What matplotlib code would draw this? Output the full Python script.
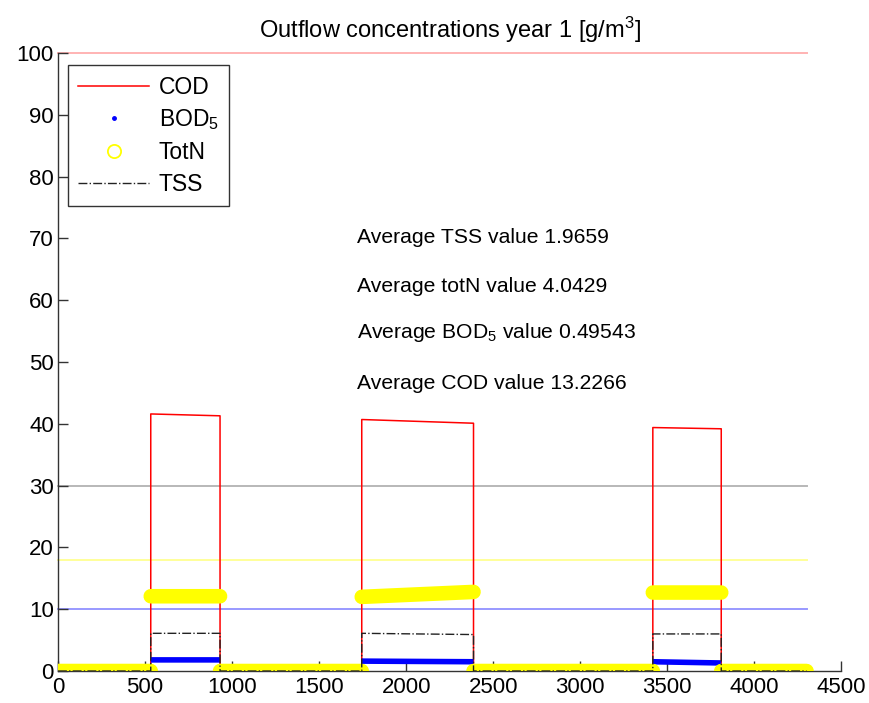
import matplotlib
matplotlib.use("Agg")
import matplotlib.pyplot as plt
from matplotlib.lines import Line2D
import numpy as np

nan = np.nan

# time axis breakpoints (step-like outflow series)
cod_t = [0, 533, 533, 931, 931, 1745, 1745, 2387, 2387, 3417, 3417, 3810, 3810, 4300]
cod_v = [0, 0, 41.6, 41.3, 0, 0, 40.7, 40.1, 0, 0, 39.4, 39.2, 0, 0]

tss_t = [0, 533, 533, 931, 931, 1745, 1745, 2387, 2387, 3417, 3417, 3810, 3810, 4300]
tss_v = [0, 0, 6.1, 6.1, 0, 0, 6.1, 5.9, 0, 0, 6.0, 6.0, 0, 0]

# marker-only series: no vertical jumps drawn, segments split by nan
bod_t = [0, 533, nan, 533, 931, nan, 931, 1745, nan, 1745, 2387, nan,
         2387, 3417, nan, 3417, 3810, nan, 3810, 4300]
bod_v = [0, 0, nan, 1.8, 1.8, nan, 0, 0, nan, 1.6, 1.5, nan,
         0, 0, nan, 1.5, 1.3, nan, 0, 0]

totn_t = [0, 533, nan, 533, 931, nan, 931, 1745, nan, 1745, 2387, nan,
          2387, 3417, nan, 3417, 3810, nan, 3810, 4300]
totn_v = [0, 0, nan, 12.1, 12.1, nan, 0, 0, nan, 12.0, 12.8, nan,
          0, 0, nan, 12.7, 12.7, nan, 0, 0]

# discharge limits
LIMITS = {"COD": 100, "TSS": 30, "TotN": 18, "BOD5": 10}
LIMIT_COLORS = {"COD": "#ffb3b3", "TSS": "#b8b8b8", "TotN": "#ffff99", "BOD5": "#9999ff"}
T_END = 4300

avg_labels = [
    "Average TSS value 1.9659",
    "Average totN value 4.0429",
    "Average BOD$_5$ value 0.49543",
    "Average COD value 13.2266",
]
avg_y = [70.2, 62.2, 54.8, 46.6]

plt.rcParams.update({
    "font.family": "Liberation Sans",
    "font.size": 15,
    "mathtext.fontset": "custom",
    "mathtext.rm": "Liberation Sans",
    "mathtext.it": "Liberation Sans:italic",
    "mathtext.default": "regular",
})

fig = plt.figure(figsize=(8.69, 7.03), dpi=100)
ax = fig.add_axes([0.0667, 0.0455, 0.9015, 0.879])

for key in ["COD", "TSS", "TotN", "BOD5"]:
    ax.plot([0, T_END], [LIMITS[key]] * 2, color=LIMIT_COLORS[key], lw=1.4,
            zorder=1, clip_on=False)

ax.plot(cod_t, cod_v, color="red", lw=1.1, zorder=2)
ax.plot(bod_t, bod_v, color="blue", lw=4, solid_capstyle="butt", zorder=3)
ax.plot(totn_t, totn_v, color="yellow", lw=10.5, solid_capstyle="round", zorder=4)
ax.plot(tss_t, tss_v, color="#222222", lw=1.0, ls="-.", zorder=5)

for lbl, yy in zip(avg_labels, avg_y):
    ax.text(1718, yy, lbl, ha="left", va="center", fontsize=15.2)

ax.set_xlim(0, 4500)
ax.set_ylim(0, 100)
ax.set_xticks(np.arange(0, 4501, 500))
ax.set_yticks(np.arange(0, 101, 10))
ax.tick_params(direction="in", length=7, width=1, colors="#333333", labelcolor="black",
               labelsize=16)
ax.tick_params(axis="y", pad=3)
ax.tick_params(axis="x", pad=4)
for s in ("top", "right"):
    ax.spines[s].set_visible(False)
for s in ("left", "bottom"):
    ax.spines[s].set_color("#333333")
    ax.spines[s].set_linewidth(1.0)
ax.set_title("Outflow concentrations year 1 [g/m$^3$]", fontsize=17, pad=11)

handles = [
    Line2D([], [], color="red", lw=1.1),
    Line2D([], [], color="blue", ls="none", marker=".", markersize=5),
    Line2D([], [], color="yellow", ls="none", marker="o", markersize=9.5,
           markerfacecolor="none", markeredgewidth=1.3),
    Line2D([], [], color="#222222", lw=1.0, ls="-."),
]
leg = ax.legend(handles, ["COD", "BOD$_5$", "TotN", "TSS"], loc="upper left",
                bbox_to_anchor=(0.0128, 0.98), borderaxespad=0, fancybox=False,
                framealpha=1, edgecolor="#333333", handlelength=3.1,
                labelspacing=0.38, borderpad=0.45, handletextpad=0.4, fontsize=16.5)
leg.get_frame().set_linewidth(1.0)

fig.savefig("out.png", dpi=100)
